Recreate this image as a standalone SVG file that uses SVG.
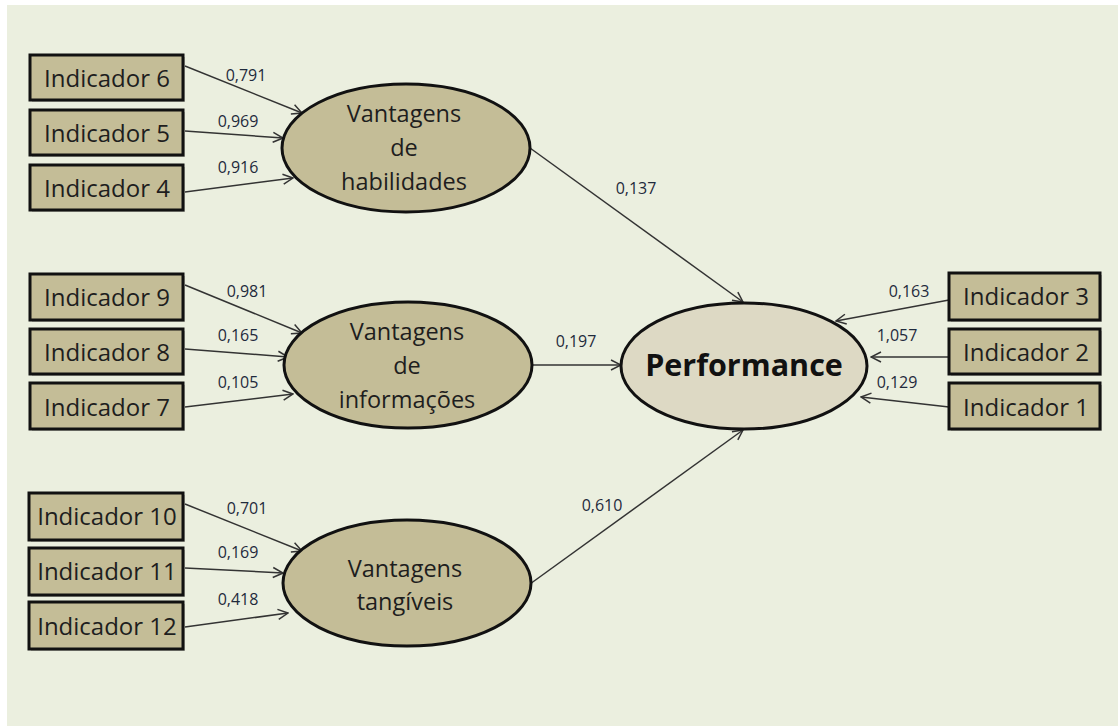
<svg xmlns="http://www.w3.org/2000/svg" width="1118" height="727" viewBox="0 0 1118 727">
<defs>
<marker id="arr" viewBox="0 0 12 12" refX="11" refY="6" markerWidth="12" markerHeight="12" markerUnits="userSpaceOnUse" orient="auto">
<path d="M1,1 L11,6 L1,11" fill="none" stroke="#333" stroke-width="1.5"/>
</marker>
<style>
.box{fill:#C4BD97;stroke:#111;stroke-width:3}
.sh{fill:#8a8a80;opacity:0.5}
.lv{fill:#C4BD97;stroke:#111;stroke-width:3}
.perf{fill:#DDD9C4;stroke:#111;stroke-width:3}
.bt{font-family:"Open Sans","Liberation Sans",sans-serif;font-size:24px;fill:#1e1e1e;text-anchor:middle}
.et{font-family:"Open Sans","Liberation Sans",sans-serif;font-size:23.5px;fill:#1e1e1e;text-anchor:middle}
.pt{font-family:"Open Sans","Liberation Sans",sans-serif;font-size:30.5px;font-weight:bold;fill:#111;text-anchor:middle}
.lb{font-family:"Open Sans","Liberation Sans",sans-serif;font-size:16px;fill:#1F2A3C;text-anchor:middle}
.cn{stroke:#333;stroke-width:1.5;fill:none;marker-end:url(#arr)}
</style>
</defs>
<rect x="0" y="0" width="1118" height="727" fill="#ffffff"/>
<rect x="7" y="5" width="1111" height="721" fill="#EBEFDF"/>

<g id="connectors">
<line class="cn" x1="185" y1="66" x2="302" y2="113"/>
<line class="cn" x1="185" y1="131" x2="283" y2="138"/>
<line class="cn" x1="185" y1="192" x2="293" y2="178"/>
<line class="cn" x1="185" y1="285" x2="302" y2="333"/>
<line class="cn" x1="185" y1="349" x2="288" y2="357"/>
<line class="cn" x1="185" y1="407" x2="293" y2="394"/>
<line class="cn" x1="185" y1="504" x2="302" y2="551"/>
<line class="cn" x1="185" y1="568" x2="283" y2="573"/>
<line class="cn" x1="185" y1="627" x2="288" y2="613"/>
<line class="cn" x1="530" y1="148" x2="743" y2="302"/>
<line class="cn" x1="533" y1="365" x2="621" y2="365"/>
<line class="cn" x1="530" y1="584" x2="743" y2="430"/>
<line class="cn" x1="949" y1="300" x2="836" y2="321"/>
<line class="cn" x1="949" y1="357" x2="871" y2="357"/>
<line class="cn" x1="949" y1="407" x2="861" y2="397"/>
<text class="lb" x="246" y="81">0,791</text>
<text class="lb" x="238" y="127">0,969</text>
<text class="lb" x="238" y="173">0,916</text>
<text class="lb" x="247" y="297">0,981</text>
<text class="lb" x="238" y="341">0,165</text>
<text class="lb" x="238" y="388">0,105</text>
<text class="lb" x="247" y="514">0,701</text>
<text class="lb" x="238" y="558">0,169</text>
<text class="lb" x="238" y="605">0,418</text>
<text class="lb" x="636" y="194">0,137</text>
<text class="lb" x="576" y="347">0,197</text>
<text class="lb" x="602" y="511">0,610</text>
<text class="lb" x="909" y="297">0,163</text>
<text class="lb" x="897" y="341">1,057</text>
<text class="lb" x="897" y="388">0,129</text>
</g>

<g id="ind6"><rect class="sh" x="32" y="57" width="153" height="45"/><rect class="box" x="30" y="55" width="153" height="45"/><text class="bt" x="107" y="87">Indicador 6</text></g>
<g id="ind5"><rect class="sh" x="32" y="112" width="153" height="45"/><rect class="box" x="30" y="110" width="153" height="45"/><text class="bt" x="107" y="142">Indicador 5</text></g>
<g id="ind4"><rect class="sh" x="32" y="167" width="153" height="45"/><rect class="box" x="30" y="165" width="153" height="45"/><text class="bt" x="107" y="197">Indicador 4</text></g>

<g id="ind9"><rect class="sh" x="32" y="276" width="153" height="46"/><rect class="box" x="30" y="274" width="153" height="46"/><text class="bt" x="107" y="306">Indicador 9</text></g>
<g id="ind8"><rect class="sh" x="32" y="331" width="153" height="45"/><rect class="box" x="30" y="329" width="153" height="45"/><text class="bt" x="107" y="361">Indicador 8</text></g>
<g id="ind7"><rect class="sh" x="32" y="385" width="153" height="46"/><rect class="box" x="30" y="383" width="153" height="46"/><text class="bt" x="107" y="416">Indicador 7</text></g>

<g id="ind10"><rect class="sh" x="31" y="495" width="154" height="47"/><rect class="box" x="29" y="493" width="154" height="47"/><text class="bt" x="107" y="525">Indicador 10</text></g>
<g id="ind11"><rect class="sh" x="31" y="550" width="154" height="47"/><rect class="box" x="29" y="548" width="154" height="47"/><text class="bt" x="107" y="580">Indicador 11</text></g>
<g id="ind12"><rect class="sh" x="31" y="604" width="154" height="47"/><rect class="box" x="29" y="602" width="154" height="47"/><text class="bt" x="107" y="635">Indicador 12</text></g>

<g id="ind3"><rect class="sh" x="951" y="275" width="151" height="47"/><rect class="box" x="949" y="273" width="151" height="47"/><text class="bt" x="1026" y="305">Indicador 3</text></g>
<g id="ind2"><rect class="sh" x="951" y="331" width="151" height="45"/><rect class="box" x="949" y="329" width="151" height="45"/><text class="bt" x="1026" y="361">Indicador 2</text></g>
<g id="ind1"><rect class="sh" x="951" y="385" width="151" height="46"/><rect class="box" x="949" y="383" width="151" height="46"/><text class="bt" x="1026" y="416">Indicador 1</text></g>

<g id="habilidades"><ellipse class="lv" cx="406" cy="148" rx="124" ry="64"/><text class="et" x="404" y="122">Vantagens</text><text class="et" x="404" y="156">de</text><text class="et" x="404" y="190">habilidades</text></g>
<g id="informacoes"><ellipse class="lv" cx="408" cy="365" rx="124" ry="63"/><text class="et" x="407" y="340">Vantagens</text><text class="et" x="407" y="374">de</text><text class="et" x="407" y="408">informações</text></g>
<g id="tangiveis"><ellipse class="lv" cx="407" cy="583" rx="124" ry="63"/><text class="et" x="405" y="577">Vantagens</text><text class="et" x="405" y="610">tangíveis</text></g>
<g id="performance"><ellipse class="perf" cx="744" cy="366" rx="123" ry="63"/><text class="pt" x="744" y="376">Performance</text></g>
</svg>
